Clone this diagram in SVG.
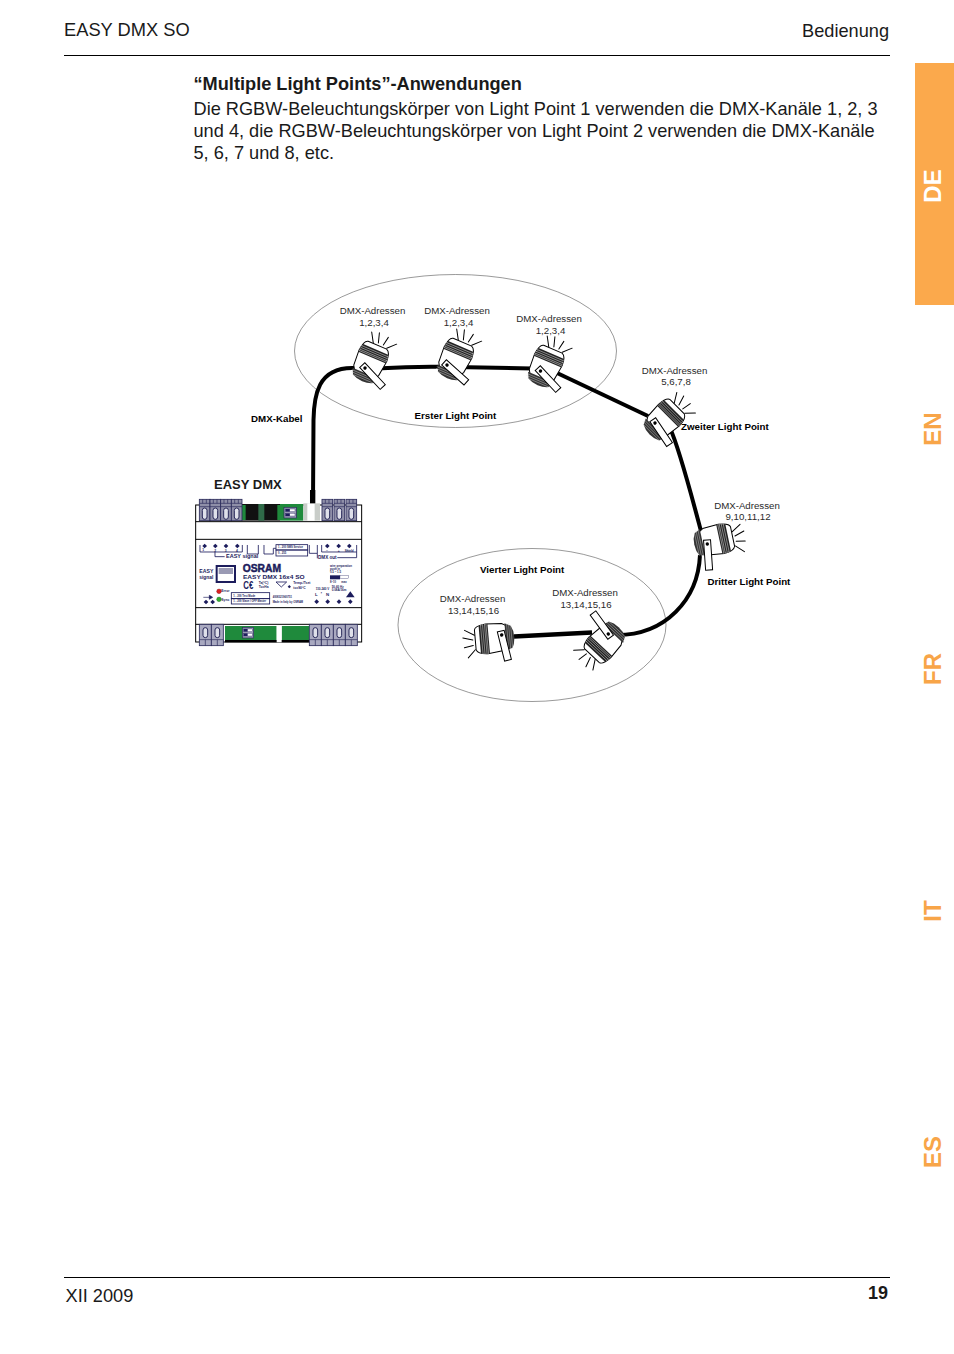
<svg xmlns="http://www.w3.org/2000/svg" xmlns:xlink="http://www.w3.org/1999/xlink" width="954" height="1354" viewBox="0 0 954 1354">
<style>
text{font-family:"Liberation Sans",Arial,sans-serif;fill:#1a1a1a}
.hd{font-size:18.2px}
.body{font-size:18.2px}
.lbl{font-size:9.7px;fill:#2a2a2a;text-anchor:middle}
.b{font-size:9.75px;font-weight:bold;fill:#000}
.tab{font-size:24px;font-weight:bold;fill:#f8a548;text-anchor:middle}
.ell{fill:none;stroke:#555;stroke-width:.6}
.cable{fill:none;stroke:#000;stroke-width:4}
.t{fill:#1c1c5c;font-weight:bold}
.ln{fill:none;stroke:#1c1c5c;stroke-width:2.500}
.term{fill:#8f8fa8;stroke:#2a2a5a;stroke-width:2.500}
.sc{fill:#dfe0ea;stroke:#2a2a5a;stroke-width:3}
.gr{fill:#1f8a3c}
.dia{fill:#1c1c5c}
</style>
<defs>
<g id="lamp">
<g stroke="#000" stroke-width="1" fill="none" stroke-linecap="round">
<path d="M-4.700,-22 L-10.400,-31.400"/><path d="M0,-24 L-3,-33.700"/><path d="M5.400,-24 L7,-33"/><path d="M9.800,-22.300 L17.300,-30"/>
</g>
<path d="M-15,-10 Q-14,-21 -10,-21.500 L10,-21.500 Q14.500,-20 15,-10 L13,6 A15,16 0 0 1 -14,6 Z" fill="#fff" stroke="#000" stroke-width="1"/>
<path d="M-13.500,-17 L13.500,-17 L15,-8 L-15,-8 Z" fill="#222"/>
<path d="M-15,-15 H15 M-15,-13 H15 M-15,-11 H15 M-15,-9.500 H15" stroke="#ddd" stroke-width=".5"/>
<path d="M-14,9 L13,9 L11,15 A15,8 0 0 1 -11,15 Z" fill="#333"/>
<path d="M-14,11 H13 M-14,13 H13 M-12,15 H12" stroke="#ddd" stroke-width=".4"/>
</g>
<g id="handle">
<rect x="-4" y="-3.500" width="30" height="7" fill="#fff" stroke="#000" stroke-width="1"/>
<circle cx="0" cy="0" r="1.700" fill="#000"/>
</g>
<g id="dip">
<rect x="0" y="0" width="34" height="32" fill="#9a9ab4" stroke="#2a2a5a" stroke-width="2"/>
<rect x="4" y="5" width="26" height="8" fill="#fff" stroke="#1c1c5c"/><rect x="4" y="5" width="12" height="8" fill="#1c1c5c"/>
<rect x="4" y="18" width="26" height="8" fill="#fff" stroke="#1c1c5c"/><rect x="4" y="18" width="12" height="8" fill="#1c1c5c"/>
</g>
<g id="tt">
<rect x="0" y="0" width="32" height="64" class="term"/>
<rect x="9" y="26" width="14" height="34" rx="7" class="sc"/>
<path d="M0,12H32M0,22H32" stroke="#2a2a5a" stroke-width="2"/>
<path d="M10,0V12M21,0V12" stroke="#2a2a5a" stroke-width="2"/>
</g>
<g id="tb">
<rect x="0" y="0" width="36" height="64" class="term" style="fill:#a9a9c0"/>
<rect x="11" y="10" width="14" height="30" rx="7" class="sc"/>
<path d="M0,46H36M18,46V64" stroke="#2a2a5a" stroke-width="2"/>
</g>
<path id="d" d="M0,-7 L7,0 L0,7 L-7,0 Z" class="dia"/>
</defs>

<g id="page-header">
<text class="hd" x="64" y="36" style="font-size:18.3px">EASY DMX SO</text>
<text class="hd" x="889" y="37" text-anchor="end">Bedienung</text>
<path d="M64,55.500H890" stroke="#000" stroke-width="1"/>
</g>
<g id="intro">
<text class="body" x="193.500" y="90" font-weight="bold">“Multiple Light Points”-Anwendungen</text>
<text class="body" x="193.500" y="115">Die RGBW-Beleuchtungskörper von Light Point 1 verwenden die DMX-Kanäle 1, 2, 3</text>
<text class="body" x="193.500" y="137">und 4, die RGBW-Beleuchtungskörper von Light Point 2 verwenden die DMX-Kanäle</text>
<text class="body" x="193.500" y="159">5, 6, 7 und 8, etc.</text>
</g>
<g id="tabs">
<rect x="915" y="63" width="39" height="242" fill="#fba94c"/>
<text class="tab" style="fill:#fff" transform="translate(941,186) rotate(-90)">DE</text>
<text class="tab" transform="translate(941,429) rotate(-90)">EN</text>
<text class="tab" transform="translate(941,669) rotate(-90)">FR</text>
<text class="tab" transform="translate(941,911) rotate(-90)">IT</text>
<text class="tab" transform="translate(941,1152) rotate(-90)">ES</text>
</g>

<g id="zones">
<ellipse class="ell" cx="455.500" cy="351" rx="161" ry="76.500"/>
<ellipse class="ell" cx="532" cy="625" rx="134" ry="76.500"/>
</g>

<g id="connectors">
<path class="cable" d="M313,503 L313.500,420 C314,395 318,368 352,368 L382,368.300 C400,367 420,366.500 440,366.700 L532,368.500"/>
<path class="cable" d="M556,372.500 L648,416"/>
<path class="cable" d="M670,428 C680,450 694,505 702,535"/>
<path class="cable" d="M700,555 C698,600 665,635 617,635"/>
<path class="cable" d="M514,636.500 L592,632.500" style="stroke-width:4.700"/>
</g>

<g id="lamp-1"><use href="#lamp" xlink:href="#lamp" transform="translate(369,365) rotate(23)"/><use href="#handle" xlink:href="#handle" transform="translate(365,368) rotate(47)"/></g>
<g id="lamp-2"><use href="#lamp" xlink:href="#lamp" transform="translate(454,362) rotate(23)"/><use href="#handle" xlink:href="#handle" transform="translate(447,365) rotate(42)"/></g>
<g id="lamp-3"><use href="#lamp" xlink:href="#lamp" transform="translate(544.500,369) rotate(23)"/><use href="#handle" xlink:href="#handle" transform="translate(540.500,371) rotate(47)"/></g>
<g id="lamp-4"><use href="#lamp" xlink:href="#lamp" transform="translate(662,422) rotate(45)"/><use href="#handle" xlink:href="#handle" transform="translate(655,423) rotate(56)"/></g>
<g id="lamp-5"><use href="#lamp" xlink:href="#lamp" transform="translate(711.500,541) rotate(78)"/><use href="#handle" xlink:href="#handle" transform="translate(707.300,544) rotate(86)"/></g>
<g id="lamp-6"><use href="#lamp" xlink:href="#lamp" transform="translate(496.700,638) scale(-1,1) rotate(95)"/><use href="#handle" xlink:href="#handle" transform="translate(501.700,635) rotate(76)"/></g>
<g id="lamp-7"><use href="#lamp" xlink:href="#lamp" transform="translate(606.700,640) rotate(223)"/><use href="#handle" xlink:href="#handle" transform="translate(608.300,634) rotate(234)"/></g>

<g id="labels">
<text class="lbl" x="372.500" y="314">DMX-Adressen</text><text class="lbl" x="374" y="326">1,2,3,4</text>
<text class="lbl" x="457" y="314">DMX-Adressen</text><text class="lbl" x="458.500" y="326">1,2,3,4</text>
<text class="lbl" x="549" y="322">DMX-Adressen</text><text class="lbl" x="550.500" y="334">1,2,3,4</text>
<text class="lbl" x="674.500" y="374">DMX-Adressen</text><text class="lbl" x="676" y="385">5,6,7,8</text>
<text class="lbl" x="747" y="509">DMX-Adressen</text><text class="lbl" x="748" y="520">9,10,11,12</text>
<text class="lbl" x="472.500" y="602">DMX-Adressen</text><text class="lbl" x="473.500" y="614">13,14,15,16</text>
<text class="lbl" x="585" y="596">DMX-Adressen</text><text class="lbl" x="586" y="608">13,14,15,16</text>
<text class="b" x="251" y="422">DMX-Kabel</text>
<text class="b" x="414.500" y="419">Erster Light Point</text>
<text class="b" x="681" y="430">Zweiter Light Point</text>
<text class="b" x="707.500" y="585">Dritter Light Point</text>
<text class="b" x="480" y="573">Vierter Light Point</text>
<text x="214" y="489" font-size="13" font-weight="bold" fill="#000">EASY DMX</text>
</g>

<g id="device" transform="translate(190,490) scale(.3333)">
<rect x="17" y="45" width="498" height="411" fill="#fff" stroke="#000" stroke-width="3"/>
<rect x="155" y="42" width="115" height="50" fill="#111"/>
<rect x="155" y="45" width="12" height="45" class="gr"/><rect x="205" y="42" width="18" height="50" fill="#2f6a48"/><rect x="262" y="45" width="10" height="45" class="gr"/>
<rect x="270" y="42" width="70" height="50" class="gr"/>
<use href="#dip" xlink:href="#dip" transform="translate(282,52) scale(1.100,1)"/>
<rect x="340" y="40" width="50" height="52" fill="#c9cdc9"/><rect x="352" y="40" width="22" height="52" fill="#fff"/>
<rect x="360" y="0" width="16" height="40" fill="#000"/>
<use href="#tt" xlink:href="#tt" transform="translate(28,28)"/><use href="#tt" xlink:href="#tt" transform="translate(60,28)"/><use href="#tt" xlink:href="#tt" transform="translate(92,28)"/><use href="#tt" xlink:href="#tt" transform="translate(124,28)"/>
<use href="#tt" xlink:href="#tt" transform="translate(396,28)"/><use href="#tt" xlink:href="#tt" transform="translate(432,28)"/><use href="#tt" xlink:href="#tt" transform="translate(468,28)"/>
<path d="M17,95H515M17,148H515M17,353H515M17,403H515" stroke="#000" stroke-width="3" fill="none"/>
<g class="ln">
<path d="M30,165V186H157V165M75,186V200H104M172,165V192H205V165M222,165V192H250V175H258M358,165V190H382V165M395,165V186H500V165M382,190V205M442,203H500V186"/>
<rect x="258" y="164" width="95" height="16"/><rect x="258" y="180" width="95" height="18"/>
<rect x="124" y="308" width="115" height="18"/><rect x="124" y="326" width="115" height="16"/>
<path d="M258,276L290,276L274,291Z"/>
</g>
<use href="#d" xlink:href="#d" transform="translate(44,168)"/><use href="#d" xlink:href="#d" transform="translate(76,168)"/><use href="#d" xlink:href="#d" transform="translate(108,168)"/><use href="#d" xlink:href="#d" transform="translate(142,168)"/>
<use href="#d" xlink:href="#d" transform="translate(412,168)"/><use href="#d" xlink:href="#d" transform="translate(446,168)"/><use href="#d" xlink:href="#d" transform="translate(478,168)"/>
<use href="#d" xlink:href="#d" transform="translate(380,335)"/><use href="#d" xlink:href="#d" transform="translate(413,335)"/><use href="#d" xlink:href="#d" transform="translate(447,335)"/><use href="#d" xlink:href="#d" transform="translate(481,335)"/>
<use href="#d" xlink:href="#d" transform="translate(48,336)"/><use href="#d" xlink:href="#d" transform="translate(68,336)"/>
<path d="M40,322H62M58,316L68,322L58,328Z" stroke="#1c1c5c" stroke-width="2" fill="#1c1c5c"/>
<path d="M481,304L468,322H494Z" class="dia"/>
<rect x="80" y="228" width="55" height="48" fill="#fff" stroke="#1c1c5c" stroke-width="6"/>
<rect x="86" y="234" width="43" height="18" fill="#9a9ab4"/>
<circle cx="87" cy="304" r="7" fill="#d22" stroke="#611"/><circle cx="87" cy="328" r="7" fill="#3a3" stroke="#161"/>
<text class="t" x="28" y="248" font-size="14" textLength="42" lengthAdjust="spacingAndGlyphs">EASY</text><text class="t" x="28" y="267" font-size="14" textLength="42" lengthAdjust="spacingAndGlyphs">signal</text>
<text class="t" x="158" y="247" font-size="34" stroke="#1c1c5c" stroke-width="1.500" textLength="115" lengthAdjust="spacingAndGlyphs">OSRAM</text>
<text class="t" x="159" y="266" font-size="18" textLength="185" lengthAdjust="spacingAndGlyphs">EASY DMX 16x4 SO</text>
<text class="t" x="160" y="296" font-size="30" font-weight="normal" textLength="30" lengthAdjust="spacingAndGlyphs">C€</text>
<text class="t" x="206" y="283" font-size="10">Ta(°C)</text><text class="t" x="206" y="293" font-size="10">Tc=Ha</text>
<text class="t" x="310" y="283" font-size="10">Temp./Tset</text><text class="t" x="310" y="297" font-size="10">tc=90°C</text>
<use href="#d" xlink:href="#d" transform="translate(298,290) scale(.7)"/>
<text class="t" x="108" y="205" font-size="14" textLength="97" lengthAdjust="spacingAndGlyphs">EASY signal</text>
<text class="t" x="384" y="206" font-size="14" textLength="56" lengthAdjust="spacingAndGlyphs">DMX out</text>
<text class="t" x="37" y="183" font-size="10">1</text><text class="t" x="73" y="186" font-size="10">2</text><text class="t" x="104" y="186" font-size="10">3</text><text class="t" x="138" y="186" font-size="10">4</text>
<text class="t" x="408" y="185" font-size="10">−</text><text class="t" x="443" y="186" font-size="10">+</text><text class="t" x="464" y="186" font-size="9">Shield</text>
<text class="t" x="264" y="175" font-size="8">1 - 200 SMS Service</text><text class="t" x="264" y="192" font-size="8">0 - 255</text>
<text class="t" x="130" y="320" font-size="8">1 - 200 Test Mode</text><text class="t" x="130" y="337" font-size="8">1 - 200 Slave / OFF Master</text>
<text class="t" x="94" y="307" font-size="10">Error</text><text class="t" x="94" y="332" font-size="10">Sync</text>
<text class="t" x="420" y="230" font-size="8.500">wire preparation</text><text class="t" x="420" y="239" font-size="8.500">push in</text><text class="t" x="420" y="249" font-size="8.500">0.5 – 1.5</text>
<rect x="420" y="256" width="30" height="12" fill="#1c1c5c"/><rect x="450" y="256" width="26" height="10" fill="#fff" stroke="#1c1c5c"/>
<text class="t" x="454" y="278" font-size="8">max</text><text class="t" x="420" y="278" font-size="8">8–10</text>
<text class="t" x="377" y="299" font-size="9">110-240 V</text><text class="t" x="425" y="293" font-size="9">50-60 Hz</text><text class="t" x="425" y="302" font-size="9">0.08A/16m</text>
<text class="t" x="375" y="318" font-size="13" font-weight="normal">L</text><text class="t" x="392" y="316" font-size="9" font-weight="normal">*</text><text class="t" x="408" y="318" font-size="13" font-weight="normal">N</text>
<text class="t" x="248" y="325" font-size="8">4008321960751</text><text class="t" x="248" y="340" font-size="8">Made in Italy by OSRAM</text>
<rect x="105" y="408" width="155" height="42" class="gr"/><rect x="275" y="408" width="83" height="42" class="gr"/>
<rect x="105" y="450" width="253" height="7" fill="#000"/><rect x="260" y="405" width="15" height="52" fill="#fff"/>
<use href="#dip" xlink:href="#dip" transform="translate(157,412)"/>
<use href="#tb" xlink:href="#tb" transform="translate(28,403)"/><use href="#tb" xlink:href="#tb" transform="translate(64,403)"/>
<use href="#tb" xlink:href="#tb" transform="translate(358,403)"/><use href="#tb" xlink:href="#tb" transform="translate(394,403)"/><use href="#tb" xlink:href="#tb" transform="translate(430,403)"/><use href="#tb" xlink:href="#tb" transform="translate(466,403)"/>
</g>

<g id="page-footer">
<path d="M64,1277.500H890" stroke="#000" stroke-width="1"/>
<text class="hd" x="65.500" y="1302">XII 2009</text>
<text x="888" y="1299" font-size="18" font-weight="bold" text-anchor="end">19</text>
</g>
</svg>
